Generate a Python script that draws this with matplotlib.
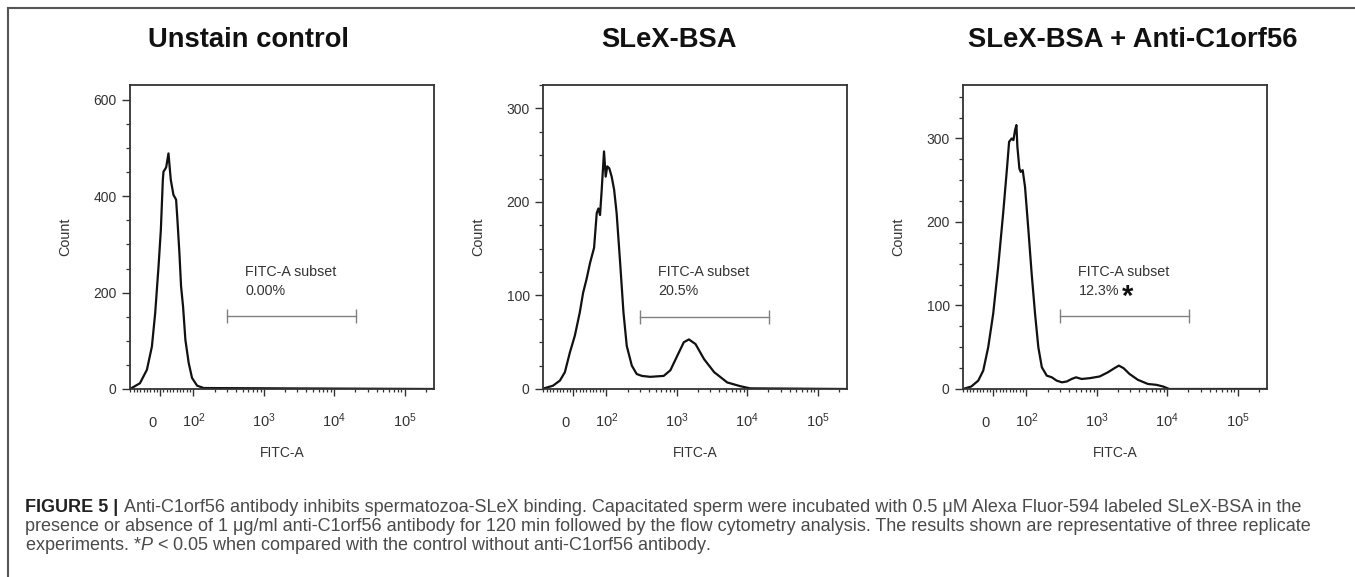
import numpy as np
import matplotlib
matplotlib.use("Agg")
from matplotlib import pyplot as plt
from matplotlib import transforms
from matplotlib.lines import Line2D
from matplotlib.ticker import FixedLocator, MultipleLocator

plt.rcParams['font.family'] = ['Liberation Sans', 'DejaVu Sans']
plt.rcParams['mathtext.fontset'] = 'custom'
plt.rcParams['mathtext.rm'] = 'Liberation Sans'
plt.rcParams['mathtext.it'] = 'Liberation Sans:italic'
plt.rcParams['mathtext.bf'] = 'Liberation Sans:bold'

titles = ["Unstain control", "SLeX-BSA", "SLeX-BSA + Anti-C1orf56"]
subset_pct = ["0.00%", "20.5%", "12.3%"]

# histograms: FITC-A intensity vs event count
unstain_fitc = [-91, -86, -61, -40, -25, -15, -5, 2, 8, 10, 18, 25, 32, 40, 48, 52,
                58, 63, 69, 76, 86, 96, 113, 140, 262144]
unstain_count = [0.5, 2, 12, 40, 88, 158, 254, 330, 434, 451, 460, 489, 434, 403,
                 393, 351, 282, 213, 171, 102, 54, 23, 7, 2, 0]

slex_fitc = [-88, -61, -40, -25, -10, 5, 20, 30, 40, 51, 63, 71, 76, 81, 86, 93, 98,
             103, 110, 119, 129, 140, 157, 175, 195, 230, 270, 320, 421, 653, 812,
             1010, 1260, 1490, 1850, 2440, 3400, 5220, 8000, 11000, 262144]
slex_count = [0.7, 3.5, 9, 18, 39, 57, 82, 103, 117, 135, 151, 188, 193, 186, 213,
              254, 227, 238, 236, 227, 213, 188, 135, 82, 46, 25, 16, 14, 13, 14, 20,
              35, 50, 53, 48, 32, 18, 7, 3, 0.7, 0]

anti_fitc = [-91, -66, -45, -30, -15, 0, 15, 30, 42, 48, 56, 61, 66, 70, 73, 79, 83,
             89, 96, 107, 119, 133, 148, 166, 195, 230, 270, 320, 375, 440, 508, 610,
             800, 1100, 1440, 1790, 2060, 2400, 2920, 3840, 5340, 7030, 8750, 10700,
             262144]
anti_count = [0, 3, 10, 22, 50, 90, 146, 210, 266, 296, 300, 298, 310, 316, 290, 264,
              260, 262, 242, 190, 138, 90, 50, 26, 16, 14, 10, 8, 9, 12, 14, 12, 13,
              15, 20, 25, 28, 25, 18, 11, 6, 5, 3, 0, 0]

gate_lo, gate_hi = 300, 20700
gate_y = [152, 77, 87]
y_top = [631, 325, 364]
y_major = [200, 100, 100]
y_minor = [50, 25, 25]
x_major = [0, 1e2, 1e3, 1e4, 1e5]
x_major_labels = ["0", "$10^{2}$", "$10^{3}$", "$10^{4}$", "$10^{5}$"]

W, H = 1355, 577
fig = plt.figure(figsize=(W / 100, H / 100), dpi=100)
renderer = fig.canvas.get_renderer()

# outer frame of the figure panel (top and left only)
fig.add_artist(Line2D([8 / W, 1], [1 - 8 / H] * 2, transform=fig.transFigure,
                      color='#555555', lw=1.5))
fig.add_artist(Line2D([8 / W, 8 / W], [0, 1 - 8 / H], transform=fig.transFigure,
                      color='#555555', lw=1.5))

lefts = [130, 543, 963]
title_x = [248, 669, 1133]
curves = [(unstain_fitc, unstain_count), (slex_fitc, slex_count), (anti_fitc, anti_count)]
minor_x = ([-v for v in range(90, 0, -10)] + list(range(10, 100, 10)) +
           [k * 10 ** n for n in (2, 3, 4) for k in range(2, 10)] + [200000])

txt = '#333333'
for i in range(3):
    ax = fig.add_axes([lefts[i] / W, (H - 389) / H, 304 / W, 304 / H])
    ax.set_xscale('symlog', linthresh=100, linscale=0.424)
    fitc, count = curves[i]
    ax.plot(fitc, count, color='#111111', lw=1.6, solid_joinstyle='round')

    ax.set_xlim(-91, 262144)
    ax.set_ylim(0, y_top[i])

    # gate
    ax.plot([gate_lo, gate_hi], [gate_y[i]] * 2, color='#808080', lw=1)
    ax.plot([gate_lo, gate_hi], [gate_y[i]] * 2, color='#808080', ls='none',
            marker='|', ms=9.5, mew=1)
    tr = transforms.blended_transform_factory(ax.transData, ax.transAxes)
    ax.text(550, 0.385, "FITC-A subset", transform=tr, fontsize=10.3, color=txt,
            va='center', ha='left')
    ax.text(550, 0.322, subset_pct[i], transform=tr, fontsize=10.3, color=txt,
            va='center', ha='left')
    if i == 2:
        ax.text(2746, 0.275, "*", transform=tr, fontsize=21, fontweight='bold',
                color='#111111', ha='center', va='baseline')

    ax.xaxis.set_major_locator(FixedLocator(x_major))
    ax.set_xticklabels(x_major_labels)
    ax.xaxis.set_minor_locator(FixedLocator(minor_x))
    ax.yaxis.set_major_locator(MultipleLocator(y_major[i]))
    ax.yaxis.set_minor_locator(MultipleLocator(y_minor[i]))

    ax.tick_params(axis='x', which='major', length=5, width=1, pad=22.4,
                   labelsize=10.5, labelcolor=txt, color='#333333')
    ax.tick_params(axis='x', which='minor', length=2.5, width=0.9, color='#333333')
    ax.tick_params(axis='y', which='major', length=5.8, width=1, pad=3.8,
                   labelsize=10, labelcolor=txt, color='#333333')
    ax.tick_params(axis='y', which='minor', length=2.9, width=0.9, color='#333333')
    xlabs = ax.get_xticklabels()
    for lab in xlabs:
        lab.set_va('baseline')
    # the "0" label sits a little left of its tick, as in FlowJo
    xlabs[0].set_transform(xlabs[0].get_transform() +
                           transforms.ScaledTranslation(-0.08, 0, fig.dpi_scale_trans))

    for sp in ax.spines.values():
        sp.set_color('#333333')
        sp.set_linewidth(1.3)

    ax.set_xlabel("FITC-A", fontsize=10, color=txt)
    ax.xaxis.set_label_coords(0.5, -0.2115)
    ax.xaxis.label.set_va('center')
    ax.set_ylabel("Count", fontsize=10.4, color=txt)
    ax.yaxis.set_label_coords(-0.214, 0.5)
    ax.yaxis.label.set_va('center')

    fig.text(title_x[i] / W, 1 - 40 / H, titles[i], fontsize=19.7, fontweight='bold',
             color='#111111', ha='center', va='center')

# caption: bold lead-in, then regular text, set to the reference's full width
cap_head = "FIGURE 5 |"
cap_lines = [
    "Anti-C1orf56 antibody inhibits spermatozoa-SLeX binding. "
    "Capacitated sperm were incubated with 0.5 \u03bcM Alexa Fluor-594 labeled SLeX-BSA in the",
    "presence or absence of 1 \u03bcg/ml anti-C1orf56 antibody for 120 min followed by the "
    "flow cytometry analysis. The results shown are representative of three replicate",
    r"experiments. *$P$ < 0.05 when compared with the control without anti-C1orf56 antibody.",
]
cap_y = [507, 526.5, 546]
cap_gray = '#4a4a4a'

# size from the second line, which runs from x=25 to x=1316
probe = fig.text(25 / W, 1 - cap_y[1] / H, cap_lines[1], fontsize=10, color=cap_gray,
                 ha='left', va='center')
cap_size = 10 * 1291 / probe.get_window_extent(renderer).width
probe.set_fontsize(cap_size)

head = fig.text(25 / W, 1 - cap_y[0] / H, cap_head, fontsize=cap_size,
                fontweight='bold', color='#222222', ha='left', va='center')
head_w = head.get_window_extent(renderer).width + 0.3 * cap_size * 100 / 72
fig.text((25 + head_w) / W, 1 - cap_y[0] / H, cap_lines[0], fontsize=cap_size,
         color=cap_gray, ha='left', va='center')
fig.text(25 / W, 1 - cap_y[2] / H, cap_lines[2], fontsize=cap_size, color=cap_gray,
         ha='left', va='center')

fig.savefig("out.png", dpi=100)
